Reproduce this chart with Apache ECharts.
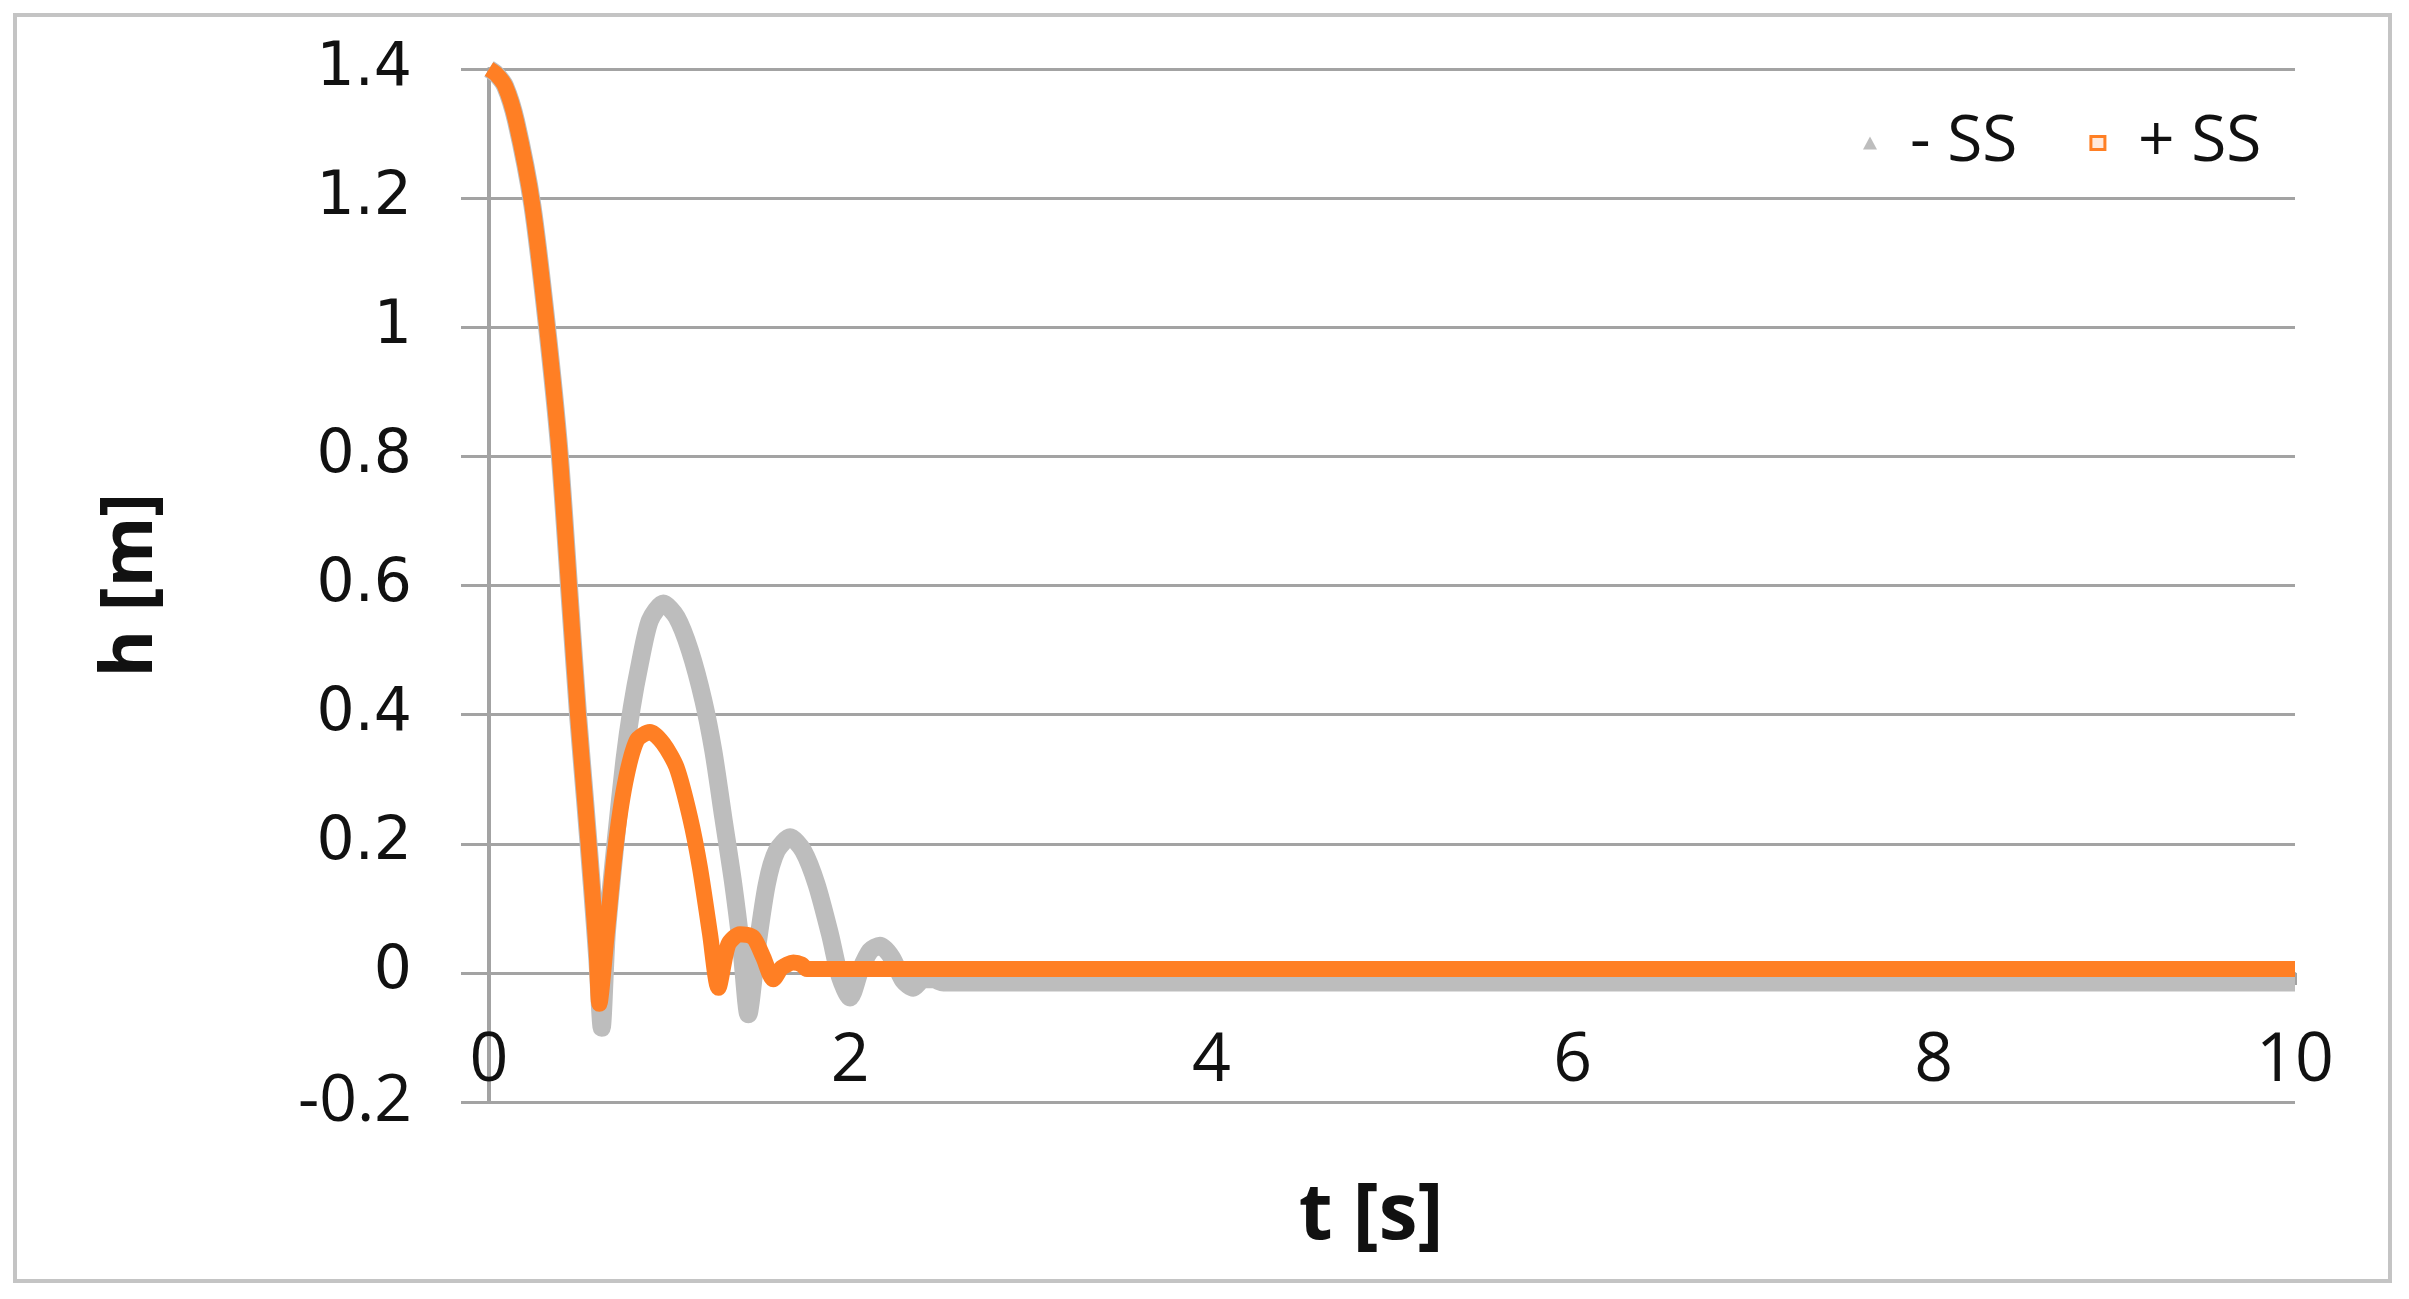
<!DOCTYPE html>
<html>
<head>
<meta charset="utf-8">
<script src="https://cdn.jsdelivr.net/npm/echarts@6/dist/echarts.min.js"></script>
<style>
  html, body { margin: 0; padding: 0; background: #fff; }
  #chart { width: 2409px; height: 1299px; }
</style>
</head>
<body>
<div id="chart"></div>
<script>
// values
var xTicks = [0, 2, 4, 6, 8, 10];
var yTicks = [-0.2, 0, 0.2, 0.4, 0.6, 0.8, 1, 1.2, 1.4];
var seriesNames = ["- SS", "+ SS"];

// - SS (grey)
var tMinus = [0, 0.04, 0.09, 0.15, 0.24, 0.32, 0.39, 0.45, 0.494, 0.532, 0.569, 0.6, 0.624,
  0.652, 0.7, 0.75, 0.79, 0.836, 0.891, 0.965, 1.039, 1.113, 1.187, 1.242, 1.297, 1.353, 1.399, 1.436,
  1.482, 1.538, 1.593, 1.667, 1.74, 1.814, 1.888, 1.944, 1.999,
  2.054, 2.11, 2.165, 2.23, 2.294, 2.349, 2.405, 2.46, 2.516, 10];
var hMinus = [1.4, 1.392, 1.373, 1.319, 1.189, 1.004, 0.808, 0.57, 0.396, 0.267, 0.137, 0.02, -0.085,
  0.06, 0.2, 0.33, 0.41, 0.48, 0.546, 0.572, 0.551, 0.499, 0.422, 0.344, 0.241, 0.137, 0.034, -0.064,
  0.034, 0.137, 0.189, 0.21, 0.189, 0.137, 0.06, -0.007, -0.038,
  0.003, 0.034, 0.042, 0.024, -0.012, -0.023, -0.01, -0.01, -0.015, -0.015];

// + SS (orange)
var tPlus = [0, 0.04, 0.09, 0.15, 0.24, 0.32, 0.39, 0.45, 0.494, 0.532, 0.569, 0.596, 0.611,
  0.652, 0.698, 0.753, 0.818, 0.891, 0.965, 1.039, 1.113, 1.168, 1.224, 1.27,
  1.325, 1.39, 1.463, 1.519, 1.574, 1.621, 1.685, 1.731, 1.76, 10];
var hPlus = [1.4, 1.392, 1.373, 1.319, 1.189, 1.004, 0.808, 0.57, 0.396, 0.267, 0.137, 0.034, -0.048,
  0.06, 0.189, 0.293, 0.36, 0.373, 0.355, 0.318, 0.241, 0.163, 0.06, -0.023,
  0.044, 0.06, 0.055, 0.024, -0.01, 0.008, 0.016, 0.013, 0.006, 0.006];

function pairs(ts, hs) {
  return ts.map(function (t, i) { return [t, hs[i]]; });
}

var grey = "#bdbdbd";
var orange = "#ff7f24";
var gridGrey = "#a3a3a3";

var chart = echarts.init(document.getElementById("chart"));

var option = {
  backgroundColor: "#fff",
  animation: false,
  grid: { left: 489, right: 114, top: 69, bottom: 197 },
  legend: {
    left: 1858,
    top: 106,
    itemWidth: 14,
    itemHeight: 13,
    itemGap: 72,
    textStyle: {
      fontFamily: "Open Sans",
      fontSize: 64,
      color: "#111",
      padding: [0, 0, 0, 28]
    },
    data: [
      { name: seriesNames[0], icon: "triangle", itemStyle: { color: grey, borderWidth: 0 } },
      { name: seriesNames[1], icon: "rect", itemStyle: { color: "#ffe9dc", borderColor: orange, borderWidth: 3 } }
    ]
  },
  xAxis: {
    type: "value",
    min: xTicks[0],
    max: xTicks[xTicks.length - 1],
    interval: 2,
    axisLine: { onZero: true, lineStyle: { color: gridGrey, width: 3 } },
    axisTick: { show: true, length: 12, lineStyle: { color: gridGrey, width: 3 } },
    splitLine: { show: false },
    axisLabel: {
      margin: -74,
      fontFamily: "Open Sans",
      fontSize: 68,
      color: "#111"
    }
  },
  yAxis: {
    type: "value",
    min: yTicks[0],
    max: yTicks[yTicks.length - 1],
    interval: 0.2,
    axisLine: { show: true, onZero: false, lineStyle: { color: gridGrey, width: 4 } },
    axisTick: { show: true, length: 28, lineStyle: { color: gridGrey, width: 3 } },
    splitLine: { show: true, lineStyle: { color: gridGrey, width: 3 } },
    axisLabel: {
      margin: 77,
      formatter: function (v) {
        var s = String(Number(v.toFixed(1)));
        return v < 0 ? "{n|" + s + "}" : "{a|" + s + "}";
      },
      rich: {
        a: { fontFamily: "DejaVu Sans", fontSize: 60, color: "#111" },
        n: { fontFamily: "Open Sans", fontSize: 66, color: "#111" }
      }
    }
  },
  graphic: [
    {
      type: "rect",
      shape: { x: 15, y: 15, width: 2375, height: 1266 },
      style: { fill: "none", stroke: "#c4c4c4", lineWidth: 4 },
      z: -1
    },
    {
      type: "text",
      x: 131,
      y: 585,
      rotation: Math.PI / 2,
      style: {
        text: "h [m]",
        fontFamily: "Open Sans",
        fontWeight: "bold",
        fontSize: 72,
        fill: "#111",
        align: "center",
        verticalAlign: "middle"
      }
    },
    {
      type: "text",
      x: 1371,
      y: 1217,
      style: {
        text: "t [s]",
        fontFamily: "Open Sans",
        fontWeight: "bold",
        fontSize: 78,
        fill: "#111",
        align: "center",
        verticalAlign: "middle"
      }
    }
  ],
  series: [
    {
      name: seriesNames[0],
      type: "line",
      data: pairs(tMinus, hMinus),
      showSymbol: false,
      smooth: 0.25,
      lineStyle: { color: grey, width: 18 },
      itemStyle: { color: grey },
      z: 2
    },
    {
      name: seriesNames[1],
      type: "line",
      data: pairs(tPlus, hPlus),
      showSymbol: false,
      smooth: 0.25,
      lineStyle: { color: orange, width: 16 },
      itemStyle: { color: orange },
      z: 3
    }
  ]
};

chart.setOption(option);
</script>
</body>
</html>
